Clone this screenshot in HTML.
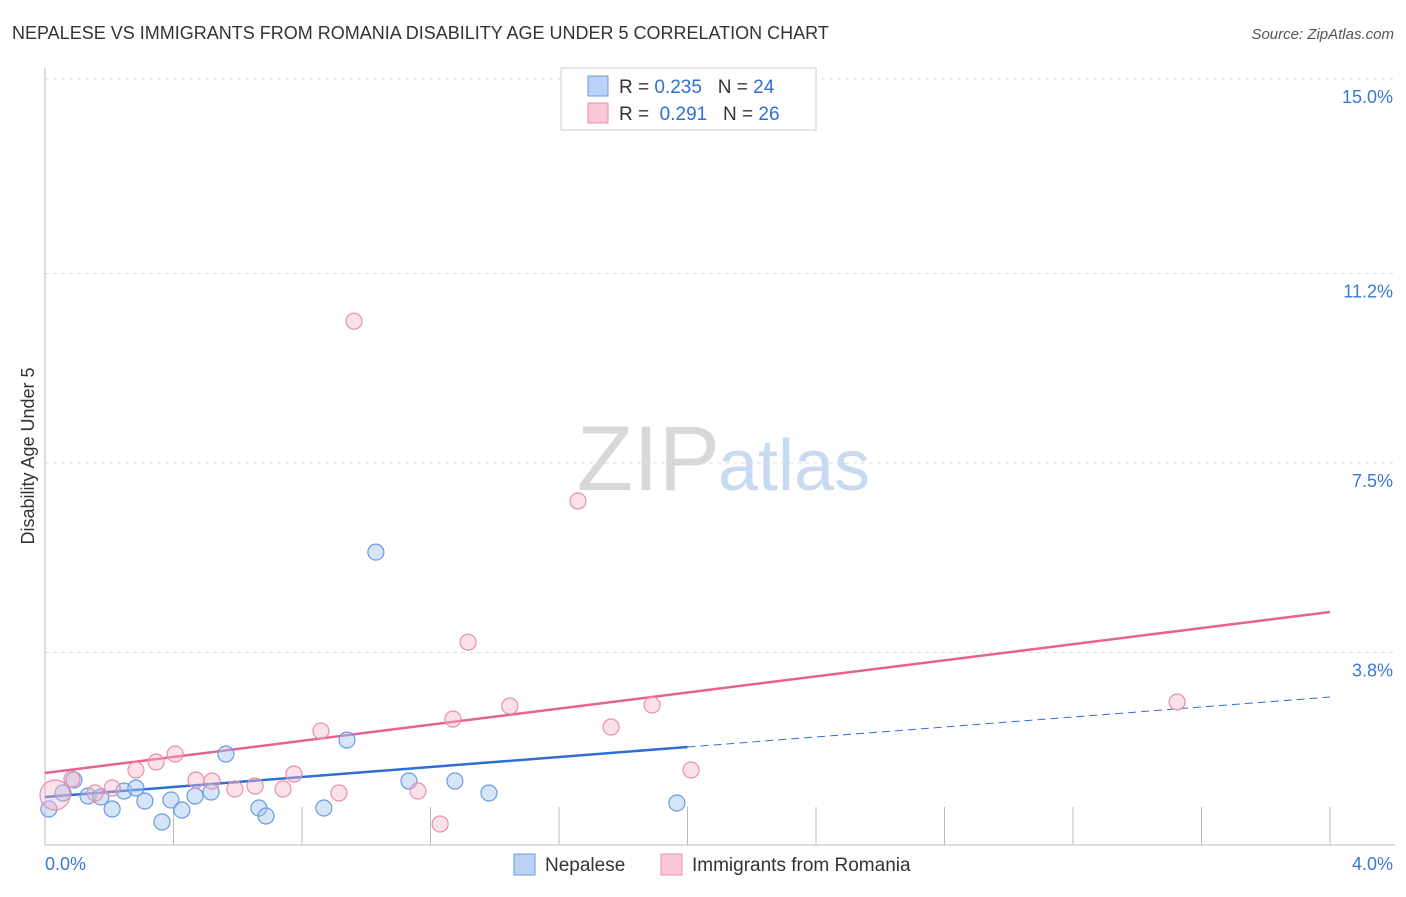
<!DOCTYPE html>
<html><head><meta charset="utf-8"><style>
body{margin:0;background:#fff;font-family:"Liberation Sans",sans-serif}
svg text{font-family:"Liberation Sans",sans-serif}
</style></head><body>
<svg id="c" width="1406" height="892">
<text x="12" y="39" font-size="18" fill="#333">NEPALESE VS IMMIGRANTS FROM ROMANIA DISABILITY AGE UNDER 5 CORRELATION CHART</text>
<text x="1394" y="39" font-size="15" fill="#555" text-anchor="end" font-style="italic">Source: ZipAtlas.com</text>
<text x="720" y="490" font-size="92" fill="#d8d8d8" text-anchor="end" font-family="Liberation Serif">ZIP</text>
<text x="718" y="490" font-size="72" fill="#c8daf2">atlas</text>
<text transform="translate(34,456) rotate(-90)" font-size="18" fill="#333" text-anchor="middle">Disability Age Under 5</text>
<g id="grid"></g><g id="axes"></g><g id="lines"></g><g id="pts"></g>
<g>
<rect x="561" y="68" width="255" height="62" fill="#fff" stroke="#ccc"/>
<rect x="588" y="76" width="20" height="20" fill="#b9d2f5" stroke="#6a9be0"/>
<rect x="588" y="103" width="20" height="20" fill="#f9c7d6" stroke="#e98fac"/>
<text x="619" y="93" font-size="19" fill="#333">R = <tspan fill="#2f6fd4">0.235</tspan>&#160;&#160;&#160;N = <tspan fill="#2f6fd4">24</tspan></text>
<text x="619" y="120" font-size="19" fill="#333">R = &#160;<tspan fill="#2f6fd4">0.291</tspan>&#160;&#160;&#160;N = <tspan fill="#2f6fd4">26</tspan></text>
</g>
<g>
<rect x="514" y="854" width="21" height="21" fill="#b9d2f5" stroke="#6a9be0"/>
<text x="545" y="871" font-size="19" fill="#333">Nepalese</text>
<rect x="661" y="854" width="21" height="21" fill="#f9c7d6" stroke="#e98fac"/>
<text x="692" y="871" font-size="19" fill="#333">Immigrants from Romania</text>
</g>
</svg>
<script>
const yTicks=[15.0,11.2,7.5,3.8];
const yTickLabels=["15.0%","11.2%","7.5%","3.8%"];
const xTickLabels=["0.0%","4.0%"];
const blueX=[0.012,0.056,0.09,0.134,0.174,0.209,0.246,0.283,0.311,0.364,0.392,0.426,0.467,0.517,0.563,0.666,0.688,0.868,0.94,1.03,1.133,1.276,1.382,1.967];
const blueY=[0.742,1.055,1.309,0.996,0.977,0.742,1.094,1.152,0.898,0.488,0.918,0.723,0.996,1.074,1.816,0.762,0.605,0.762,2.09,5.76,1.289,1.289,1.055,0.859];
const pinkX=[0.031,0.084,0.156,0.209,0.283,0.346,0.405,0.47,0.52,0.591,0.654,0.741,0.775,0.859,0.915,0.962,1.161,1.23,1.27,1.317,1.447,1.659,1.762,1.89,2.011,3.524];
const pinkY=[1.016,1.328,1.055,1.152,1.504,1.66,1.816,1.309,1.289,1.133,1.191,1.133,1.426,2.266,1.055,10.27,1.094,0.449,2.5,4.0,2.754,6.758,2.344,2.773,1.504,2.832];
const blueTrend=[0.977,2.93];
const pinkTrend=[1.445,4.59];
const ns="http://www.w3.org/2000/svg";
const X=v=>45+v*321.25, Y=v=>847-v*51.2;
function mk(t,a,p){const e=document.createElementNS(ns,t);for(const k in a)e.setAttribute(k,a[k]);document.getElementById(p).appendChild(e);return e;}
yTicks.forEach((t,i)=>{
 const g=mk('line',{x1:45,x2:1395,y1:Y(t),y2:Y(t),stroke:'#ddd','stroke-dasharray':'4,4'},'grid');
 
 
 const tx=mk('text',{x:1393,y:Y(t)+24,'font-size':18,fill:'#3a78d4','text-anchor':'end'},'grid');
 tx.textContent=yTickLabels[i];
 
 
});
let a=mk('line',{x1:45,x2:45,y1:68,y2:845,stroke:'#bbb'},'axes');


a=mk('line',{x1:45,x2:1395,y1:845,y2:845,stroke:'#bbb'},'axes');


for(let i=1;i<=10;i++){const v=i*0.4;const t=mk('line',{x1:X(v),x2:X(v),y1:807,y2:845,stroke:'#bbb'},'axes');
 
 }
[0,4].forEach((v,i)=>{const t=mk('text',{x:i?1393:45,y:870,'font-size':18,fill:'#3a78d4','text-anchor':i?'end':'start'},'axes');t.textContent=xTickLabels[i];
 
 });
function pts(xs,ys,f,s,name){xs.forEach((x,i)=>{const c=mk('circle',{cx:X(x),cy:Y(ys[i]),r:(i==0&&name=='pink-point')?15:8,fill:f,stroke:s,'stroke-width':1.2},'pts');
 
 });}
pts(blueX,blueY,'rgba(164,196,240,0.45)','#6a9be0','blue-point');
pts(pinkX,pinkY,'rgba(245,180,200,0.4)','#e98fac','pink-point');
const bAt=v=>blueTrend[0]+(blueTrend[1]-blueTrend[0])*v/4;
let l=mk('line',{x1:X(0),y1:Y(bAt(0)),x2:X(2),y2:Y(bAt(2)),stroke:'#2f6fd4','stroke-width':2.5},'lines');


l=mk('line',{x1:X(2),y1:Y(bAt(2)),x2:X(4),y2:Y(bAt(4)),stroke:'#2f6fd4','stroke-width':1,'stroke-dasharray':'8,5'},'lines');


l=mk('line',{x1:X(0),y1:Y(pinkTrend[0]),x2:X(4),y2:Y(pinkTrend[1]),stroke:'#e8628f','stroke-width':2.5},'lines');


</script>
</body></html>
